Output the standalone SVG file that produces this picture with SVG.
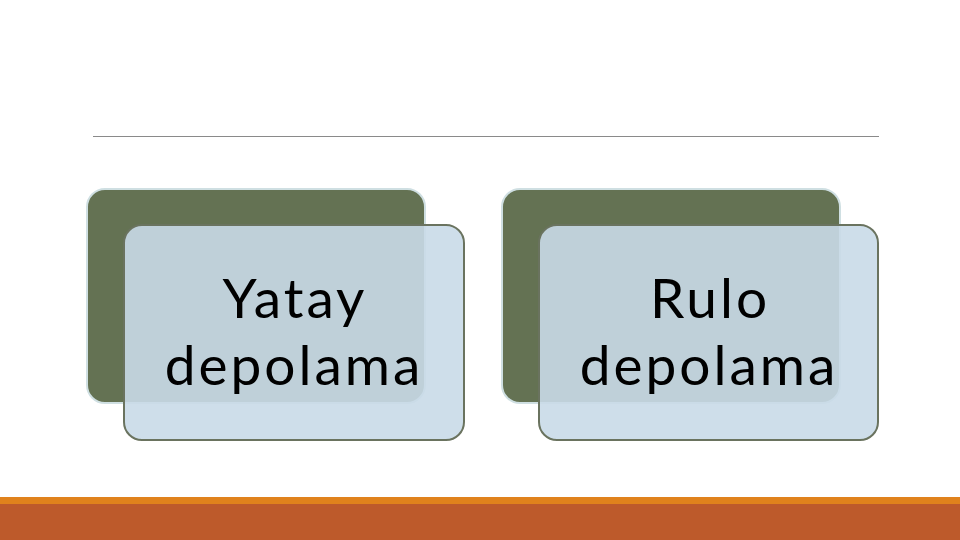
<svg xmlns="http://www.w3.org/2000/svg" width="960" height="540" viewBox="0 0 960 540">
<style>
.back{fill:#647253;stroke:#cfdfe2;stroke-width:2}
.front{fill:#c9dae8;fill-opacity:0.9;stroke:#6a735f;stroke-width:2}
.lbl{font-family:Lato,"Noto Sans",sans-serif;font-size:55px;letter-spacing:3px;fill:#000;text-anchor:middle}
</style>
<rect x="0" y="0" width="960" height="540" fill="#ffffff"/>
<line x1="93" y1="136.5" x2="879" y2="136.5" stroke="#8a8a8a" stroke-width="1.2"/>
<g id="node-yatay">
<rect class="back" x="87" y="189" width="338" height="214" rx="18"/>
<rect class="front" x="124" y="225" width="340" height="215" rx="18"/>
<text class="lbl" x="295" y="318">Yatay</text>
<text class="lbl" x="294" y="385">depolama</text>
</g>
<g id="node-rulo">
<rect class="back" x="502" y="189" width="338" height="214" rx="18"/>
<rect class="front" x="539" y="225" width="339" height="215" rx="18"/>
<text class="lbl" x="710" y="318">Rulo</text>
<text class="lbl" x="709" y="385">depolama</text>
</g>
<g id="connectors"></g>
<rect x="0" y="497" width="960" height="8" fill="#e0821c"/>
<rect x="0" y="504" width="960" height="36" fill="#bd5a2b"/>
</svg>
